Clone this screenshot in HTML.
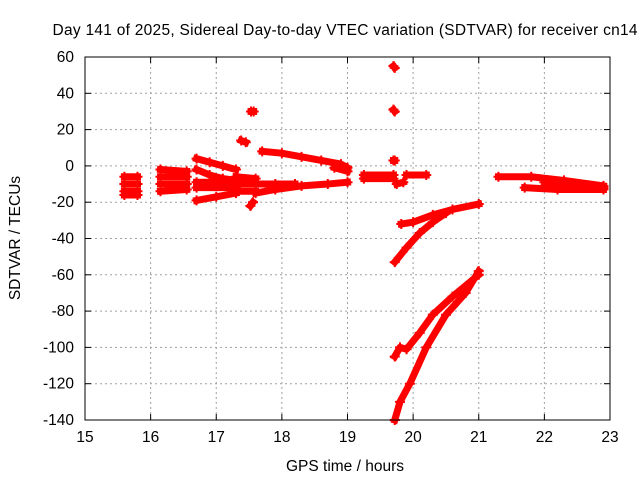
<!DOCTYPE html>
<html><head><meta charset="utf-8"><style>
body{margin:0;background:#fff;font-family:"Liberation Sans",sans-serif}
svg{display:block}
text{font-family:"Liberation Sans",sans-serif;font-size:15.5px;fill:#000}
</style></head><body>
<svg id="chart" width="640" height="480" viewBox="0 0 640 480">
<text x="345" y="35" text-anchor="middle" textLength="585">Day 141 of 2025, Sidereal Day-to-day VTEC variation (SDTVAR) for receiver cn14</text>
<g id="grid"></g>
<g id="axes"></g>
<g id="marks"></g>
<rect x="85" y="57" width="525" height="363" fill="none" stroke="#000" stroke-width="1"/>
<text x="345" y="471" text-anchor="middle">GPS time / hours</text>
<text transform="translate(20,238) rotate(-90)" text-anchor="middle">SDTVAR / TECUs</text>
</svg>
<script>
const xTicks=[15,16,17,18,19,20,21,22,23];
const yTicks=[60,40,20,0,-20,-40,-60,-80,-100,-120,-140];
// each segment: list of [hour, TECU]
const segments=[
[[15.6,-6],[15.8,-6]],[[15.6,-10],[15.8,-10]],[[15.6,-14],[15.8,-14]],[[15.6,-16],[15.8,-16]],
[[16.15,-2],[16.55,-3]],[[16.15,-6],[16.55,-6]],[[16.15,-10],[16.55,-10]],[[16.15,-14],[16.55,-13]],
[[16.7,4],[16.9,2],[17.1,0],[17.3,-2]],
[[16.7,-2],[16.9,-5],[17.1,-7],[17.3,-8]],
[[16.7,-9],[17.3,-9]],[[16.7,-12],[17.3,-12]],
[[16.7,-19],[17.0,-17],[17.3,-15]],
[[17.3,-6],[17.6,-7]],[[17.3,-10],[17.6,-10]],[[17.3,-14],[17.6,-14]],
[[17.38,14],[17.45,13]],[[17.53,30],[17.57,30]],[[17.52,-22],[17.56,-20]],
[[17.7,8],[18.0,7],[18.3,5],[18.6,3],[18.9,1],[19.0,-1]],
[[18.8,-1],[19.0,-3]],
[[17.6,-15],[17.9,-13],[18.3,-11],[18.7,-10],[19.0,-9]],
[[17.6,-10],[17.9,-10],[18.2,-10]],
[[19.25,-5],[19.7,-5]],[[19.25,-7],[19.7,-7]],[[19.75,-10],[19.85,-9]],[[19.9,-5],[20.2,-5]],
[[19.7,55],[19.72,54]],[[19.7,31],[19.72,30]],[[19.7,3],[19.72,3]],
[[21.3,-6],[21.8,-6],[22.3,-8],[22.9,-11]],
[[21.7,-12],[22.2,-13],[22.9,-13]],[[22.0,-9],[22.5,-10],[22.9,-12]],
[[19.82,-32],[20.0,-31],[20.3,-27],[20.6,-24],[21.0,-21]],
[[19.72,-53],[19.9,-45],[20.1,-37],[20.3,-31],[20.5,-26]],
[[19.72,-105],[19.8,-100],[19.9,-101],[20.1,-92],[20.3,-82],[20.6,-72],[21.0,-60]],
[[19.72,-140],[19.8,-130],[19.95,-120],[20.2,-100],[20.5,-82],[20.8,-70],[21.0,-58]]
];
const NS="http://www.w3.org/2000/svg";
const X0=85,X1=610,Y0=57,Y1=420;
function xs(t){return X0+(t-15)/8*(X1-X0);}
function ys(v){return Y0+(60-v)/200*(Y1-Y0);}
function mk(tag,a,p){const e=document.createElementNS(NS,tag);for(const k in a)e.setAttribute(k,a[k]);p.appendChild(e);return e;}
const grid=document.getElementById('grid'),axes=document.getElementById('axes'),marks=document.getElementById('marks');
xTicks.forEach(t=>{const x=xs(t);
 if(t>15&&t<23){const g=mk('line',{x1:x,x2:x,y1:Y0,y2:Y1,stroke:'#a0a0a0','stroke-dasharray':'2,3'},grid);
 
 }
 const tk=mk('line',{x1:x,x2:x,y1:Y1,y2:Y1-6,stroke:'#000'},axes);
 
 
 mk('line',{x1:x,x2:x,y1:Y0,y2:Y0+6,stroke:'#000'},axes);
 const l=mk('text',{x:x,y:Y1+22,'text-anchor':'middle'},axes);l.textContent=t;
 
 });
yTicks.forEach(v=>{const y=ys(v);
 if(v<60&&v>-140){const g=mk('line',{x1:X0,x2:X1,y1:y,y2:y,stroke:'#a0a0a0','stroke-dasharray':'2,3'},grid);
 
 }
 const tk=mk('line',{x1:X0,x2:X0+6,y1:y,y2:y,stroke:'#000'},axes);
 
 
 mk('line',{x1:X1,x2:X1-6,y1:y,y2:y,stroke:'#000'},axes);
 const l=mk('text',{x:X0-11,y:y+5,'text-anchor':'end'},axes);l.textContent=v;
 
 });
segments.forEach(seg=>{
 const pts=seg.map(p=>xs(p[0])+','+ys(p[1])).join(' ');
 const pl=mk('polyline',{points:pts,fill:'none',stroke:'#ff0000','stroke-width':7,'stroke-linejoin':'round','stroke-linecap':'square'},marks);
 
 
 seg.forEach(p=>{const x=xs(p[0]),y=ys(p[1]);
  const m=mk('path',{d:`M${x-5},${y}H${x+5}M${x},${y-5}V${y+5}`,stroke:'#ff0000','stroke-width':2},marks);
  
  });
});
</script>
</body></html>
